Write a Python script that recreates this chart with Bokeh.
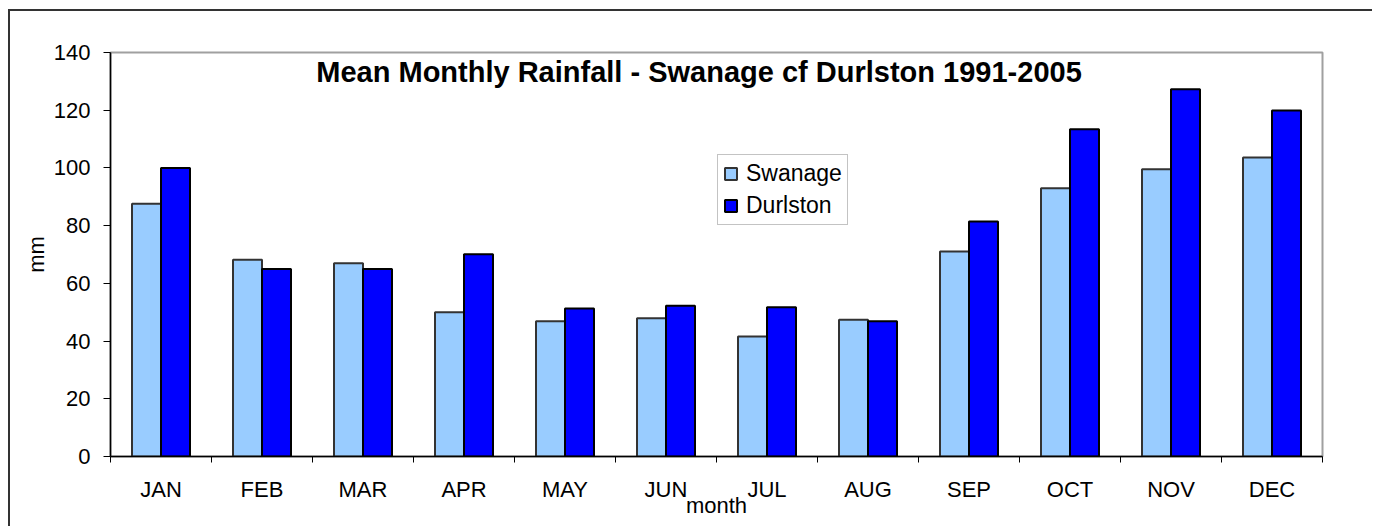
import numpy as np
from bokeh.plotting import figure
from bokeh.models import Range1d, FixedTicker, Legend, LegendItem, Label, ColumnDataSource
from bokeh.embed import file_html
from bokeh.resources import INLINE

months = ["JAN", "FEB", "MAR", "APR", "MAY", "JUN", "JUL", "AUG", "SEP", "OCT", "NOV", "DEC"]
swanage = [87.6, 68.2, 67.0, 50.0, 46.9, 47.9, 41.6, 47.4, 71.0, 93.0, 99.5, 103.6]
durlston = [100.0, 65.0, 65.0, 70.1, 51.3, 52.2, 51.7, 46.9, 81.4, 113.4, 127.3, 119.9]
y_ticks = [0, 20, 40, 60, 80, 100, 120, 140]
title_text = "Mean Monthly Rainfall - Swanage cf Durlston 1991-2005"

FONT = "Liberation Sans"
BAR_W = 0.287

idx = np.arange(len(months))
src = ColumnDataSource(dict(
    x_s=idx + 0.5 - BAR_W / 2,
    x_d=idx + 0.5 + BAR_W / 2,
    swanage=swanage,
    durlston=durlston,
))

p = figure(width=1364, height=517, output_backend="svg", toolbar_location=None,
           x_range=Range1d(0, len(months)), y_range=Range1d(0, 140),
           min_border_left=100, min_border_right=52, min_border_top=41, min_border_bottom=72)
p.styles = {"margin-left": "8px", "margin-top": "9px",
            "border-top": "2px solid #333333", "border-left": "2px solid #333333"}
p.background_fill_color = "white"
p.border_fill_color = "white"
p.outline_line_color = "#a0a0a0"
p.outline_line_width = 2

r1 = p.vbar(x="x_s", top="swanage", bottom=0, width=BAR_W, source=src,
            fill_color="#99CCFF", line_color="#333333", line_width=2)
r2 = p.vbar(x="x_d", top="durlston", bottom=0, width=BAR_W, source=src,
            fill_color="#0000FF", line_color="#000000", line_width=2)

p.xgrid.visible = False
p.ygrid.visible = False

xa = p.xaxis[0]
xa.ticker = FixedTicker(ticks=[float(i) + 0.5 for i in idx], minor_ticks=[float(i) for i in range(len(months) + 1)])
xa.major_label_overrides = {float(i) + 0.5: m for i, m in enumerate(months)}
xa.major_tick_out = 0
xa.major_tick_in = 0
xa.minor_tick_out = 6
xa.minor_tick_in = 0
xa.minor_tick_line_color = "black"
xa.axis_line_color = "black"
xa.axis_line_width = 1.5
xa.major_label_text_font = FONT
xa.major_label_text_font_size = "22px"
xa.major_label_text_color = "black"
xa.major_label_standoff = 14
xa.axis_label = "month"
xa.axis_label_text_font = FONT
xa.axis_label_text_font_style = "normal"
xa.axis_label_text_font_size = "22px"
xa.axis_label_text_color = "black"
xa.axis_label_standoff = -12

ya = p.yaxis[0]
ya.ticker = FixedTicker(ticks=y_ticks, minor_ticks=[])
ya.major_tick_out = 7
ya.major_tick_in = 0
ya.major_tick_line_color = "black"
ya.axis_line_color = "black"
ya.axis_line_width = 1.5
ya.major_label_text_font = FONT
ya.major_label_text_font_size = "22px"
ya.major_label_text_color = "black"
ya.major_label_standoff = 13
ya.axis_label = "mm"
ya.axis_label_text_font = FONT
ya.axis_label_text_font_style = "normal"
ya.axis_label_text_font_size = "22px"
ya.axis_label_text_color = "black"
ya.axis_label_standoff = 2

legend = Legend(items=[LegendItem(label="Swanage", renderers=[r1]),
                       LegendItem(label="Durlston", renderers=[r2])],
                location=(607, 231))
legend.border_line_color = "#888888"
legend.border_line_width = 1.5
legend.background_fill_color = "white"
legend.background_fill_alpha = 1
legend.label_text_font = FONT
legend.label_text_font_size = "23px"
legend.label_text_color = "black"
legend.glyph_width = 15
legend.glyph_height = 15
legend.label_height = 24
legend.label_standoff = 8
legend.spacing = 5
legend.padding = 5
legend.margin = 0
p.add_layout(legend)

title = Label(x=5.827, y=133.4, text=title_text, text_font=FONT, text_font_style="bold",
              text_font_size="29px", text_align="center", text_baseline="alphabetic", text_color="black")
p.add_layout(title)

open("out.html", "w").write(file_html(p, INLINE))
